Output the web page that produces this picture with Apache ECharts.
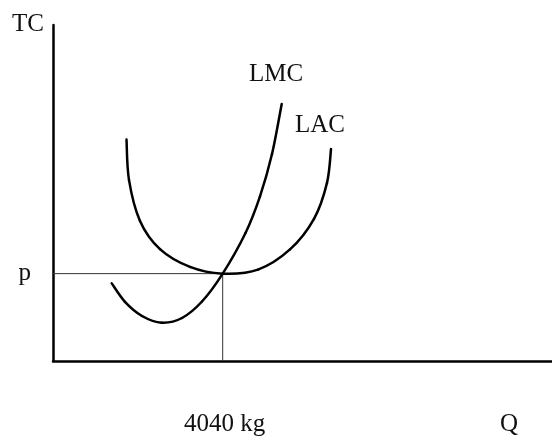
<!DOCTYPE html>
<html>
<head>
<meta charset="utf-8">
<script src="https://cdn.jsdelivr.net/npm/echarts@6/dist/echarts.min.js"></script>
<style>html,body{margin:0;padding:0;background:#fff;}#c{width:552px;height:439px;}</style>
</head>
<body>
<div id="c"></div>
<script>
// Quantity (kg) and cost values
const lacQ = [1750, 1809, 2071, 2547, 3262, 4040, 4881, 5642, 6214, 6523, 6619];
const lacC = [65.9, 53.9, 41.7, 33.3, 28.0, 26.0, 27.2, 33.2, 42.3, 53.0, 63.1];
const lmcQ = [1398, 1714, 2119, 2588, 3071, 3547, 4040, 4583, 4928, 5214, 5445];
const lmcC = [23.1, 17.6, 13.4, 11.4, 12.8, 17.7, 26.0, 38.1, 49.0, 61.6, 76.5];
const eqQ = 4040;      // equilibrium quantity
const eqP = 26;        // price level p
const xMax = 11880;
const yMax = 100;
const xTickLabel = '4040 kg';
const yTickLabel = 'p';
const names = { y: 'TC', x: 'Q', lmc: 'LMC', lac: 'LAC' };

const zip = (a, b) => a.map((v, i) => [v, b[i]]);
const font = 'Liberation Serif';
const fs = 25;
const txt = '#111';
const fontStr = fs + 'px "' + font + '"';

// Smooth (Catmull-Rom) curve through the data points, positioned with the chart's own scales
function curveRenderer(qs, cs) {
  return function (params, api) {
    if (params.dataIndex !== 0) return null;
    const p = qs.map((q, i) => api.coord([q, cs[i]]));
    const n = p.length;
    const children = [];
    for (let i = 0; i < n - 1; i++) {
      const p0 = p[Math.max(i - 1, 0)], p1 = p[i], p2 = p[i + 1], p3 = p[Math.min(i + 2, n - 1)];
      children.push({
        type: 'bezierCurve',
        shape: {
          x1: p1[0], y1: p1[1], x2: p2[0], y2: p2[1],
          cpx1: p1[0] + (p2[0] - p0[0]) / 6, cpy1: p1[1] + (p2[1] - p0[1]) / 6,
          cpx2: p2[0] - (p3[0] - p1[0]) / 6, cpy2: p2[1] - (p3[1] - p1[1]) / 6
        },
        style: { stroke: '#000', lineWidth: 2.5, fill: null, lineCap: 'round' }
      });
    }
    return { type: 'group', children: children };
  };
}

const chart = echarts.init(document.getElementById('c'), null, { renderer: 'canvas' });
chart.setOption({
  animation: false,
  backgroundColor: '#fff',
  grid: { left: 53, right: 0, top: 25, bottom: 78, containLabel: false },
  xAxis: {
    type: 'value', min: 0, max: xMax,
    axisLine: { show: true, onZero: false, lineStyle: { color: '#000', width: 2.5 } },
    axisTick: { show: false },
    splitLine: { show: false },
    axisLabel: {
      customValues: [eqQ], formatter: () => xTickLabel, margin: 51,
      fontFamily: font, fontSize: fs, color: txt, padding: [0, 0, 0, 4]
    }
  },
  yAxis: {
    type: 'value', min: 0, max: yMax,
    axisLine: { show: true, onZero: false, lineStyle: { color: '#000', width: 2.5 } },
    axisTick: { show: false },
    splitLine: { show: false },
    axisLabel: {
      customValues: [eqP], formatter: () => yTickLabel, margin: 22,
      fontFamily: font, fontSize: fs, color: txt, padding: [6, 0, 0, 0]
    }
  },
  graphic: [
    { type: 'text', left: 12, top: 12, style: { text: names.y, font: fontStr, fill: txt } },
    { type: 'text', left: 500, top: 412, style: { text: names.x, font: fontStr, fill: txt } },
    { type: 'text', left: 249, top: 62, style: { text: names.lmc, font: fontStr, fill: txt } },
    { type: 'text', left: 295, top: 113, style: { text: names.lac, font: fontStr, fill: txt } }
  ],
  series: [
    {
      type: 'line', data: [[0, eqP], [eqQ, eqP], [eqQ, 0]], showSymbol: false, symbol: 'none',
      lineStyle: { color: '#333', width: 1 }, z: 1
    },
    {
      type: 'custom', name: names.lac, data: zip(lacQ, lacC),
      renderItem: curveRenderer(lacQ, lacC), clip: false, z: 3
    },
    {
      type: 'custom', name: names.lmc, data: zip(lmcQ, lmcC),
      renderItem: curveRenderer(lmcQ, lmcC), clip: false, z: 3
    }
  ]
});
</script>
</body>
</html>
